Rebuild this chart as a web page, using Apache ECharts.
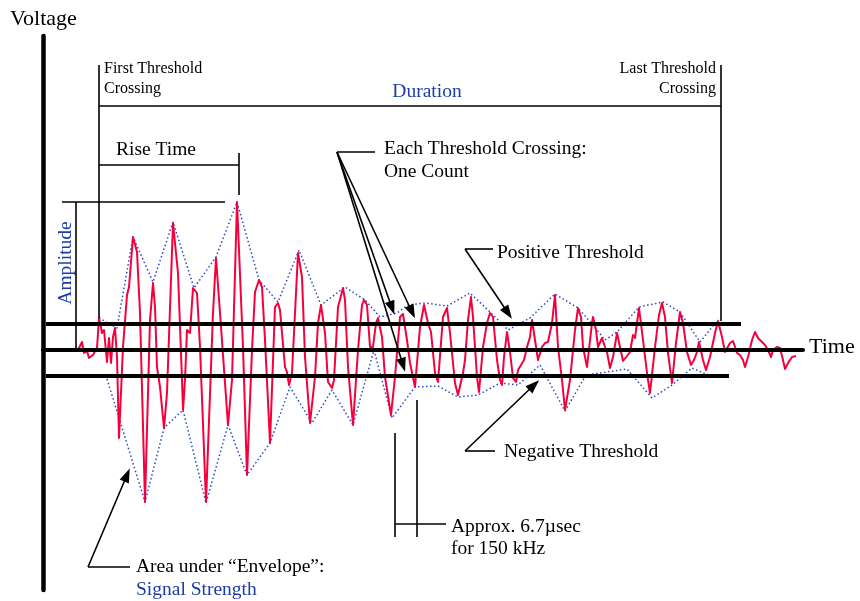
<!DOCTYPE html>
<html>
<head>
<meta charset="utf-8">
<script src="https://cdn.jsdelivr.net/npm/echarts@6/dist/echarts.min.js"></script>
<style>
html,body{margin:0;padding:0;background:#fff;}
#chart{width:860px;height:601px;}
</style>
</head>
<body>
<div id="chart"></div>
<script>
// ---- Data (time in chart units, voltage in chart units) ----
const waveTime = [11,17,23,29,35,39,41,44,46,50,52,54,56,58,59,61,64,66,68,70,72,74,76,80,84,86,90,94,97,102,107,110,112,114,117,121,124,130,135,139,140,142,144,147,150,154,157,163,170,173,177,185,189,194,200,204,209,212,216,219,222,227,232,235,237,239,242,244,246,249,255,259,262,267,272,275,278,280,282,285,289,291,295,300,302,305,310,315,319,321,324,327,330,333,335,339,342,348,352,357,360,364,367,372,377,381,385,388,392,395,400,404,407,412,415,420,422,425,428,430,434,436,440,444,447,450,454,457,459,461,464,467,470,473,475,478,481,484,487,489,492,495,499,502,505,509,512,515,519,522,527,532,535,538,540,544,546,549,550,553,555,559,562,564,567,570,574,577,580,584,587,590,592,596,600,604,607,612,616,619,622,625,629,633,637,640,644,648,651,654,656,660,663,667,672,675,679,682,684,687,690,692,694,697,700,702,705,709,712,715,719,722,725,728,730,734,737,740,742,745,749,753];
const waveVolt = [1,-1,0,-1,0,8,-3,-1,-8,-5,-3,2,32,23,17,20,-12,12,-13,13,22,-7,-88,3,55,63,113,98,37,-152,30,67,43,-17,-37,-78,-43,127,77,-30,-60,-30,20,17,62,57,3,-152,37,92,37,-75,-30,148,3,-125,0,58,70,63,10,-93,43,47,40,17,-17,-22,-35,-23,97,73,-7,-73,-27,27,45,43,17,-32,-38,-30,43,62,50,-17,-75,0,45,50,45,3,3,27,32,13,-27,-65,-27,33,36,10,-13,-37,23,45,27,18,-23,-32,33,42,17,-33,-45,-23,-10,30,53,33,-27,-42,3,27,37,33,-10,-30,-35,-7,18,-2,-28,-32,-20,-15,-10,3,13,30,10,-10,3,7,8,27,55,3,-30,-60,-30,20,42,33,3,-17,-18,27,33,20,3,12,3,-2,-18,-7,17,3,-11,-6,-2,15,12,42,10,-23,-43,3,35,47,33,-3,-33,7,38,27,-2,-15,-10,-2,8,-10,-20,-7,17,29,13,-2,-3,7,9,3,-3,-5,-10,-17,-7,10,18,12,8,5,0,-7,0,3,2,-10,-19,-13,-7,-6];

const upperTime = [56,74,90,110,130,151,173,194,216,235,256,278,302,322,337,354,365,382,404,427,447,465,487,512,535,550,562,574,596,620,637,657,675];
const upperVolt = [32,22,113,68,128,62,93,148,70,48,100,45,63,50,33,37,45,47,44,57,38,20,32,56,42,25,10,18,43,48,38,8,30];

const lowerTime = [64,102,121,140,163,185,204,227,247,269,289,310,331,349,372,395,415,435,457,475,497,522,543,584,609,629,649,665];
const lowerVolt = [-29,-152,-78,-60,-153,-75,-125,-93,-37,-73,-40,-75,0,-68,-37,-36,-47,-45,-33,-35,-15,-61,-25,-19,-48,-35,-18,-25];

const thresholdLevel = 26;
const posThresholdSpan = [3, 698];
const negThresholdSpan = [3, 686];

// ---- Build ----
const zip = (a, b) => a.map((x, i) => [x, b[i]]);
const SERIF = '"Liberation Serif", "DejaVu Serif", serif';
const BLUE = '#1c3ca6';

function seg(a, b) { return [{coord: a, symbol: 'none'}, {coord: b, symbol: 'none'}]; }
function arrow(a, b) { return [{coord: a, symbol: 'none'}, {coord: b, symbol: 'triangle', symbolSize: [10, 14]}]; }

const chart = echarts.init(document.getElementById('chart'), null, {renderer: 'canvas'});
const option = {
  animation: false,
  backgroundColor: '#fff',
  grid: {left: 43, top: 36, width: 760, height: 554, containLabel: false},
  xAxis: {
    type: 'value', min: 0, max: 760, z: 5,
    axisLine: {show: true, onZero: true, lineStyle: {color: '#000', width: 4}},
    axisTick: {show: false}, axisLabel: {show: false}, splitLine: {show: false}
  },
  yAxis: {
    type: 'value', min: -240, max: 314, z: 5,
    axisLine: {show: true, lineStyle: {color: '#000', width: 4.5}},
    axisTick: {show: false}, axisLabel: {show: false}, splitLine: {show: false}
  },
  series: [
    {
      name: 'envUpper', type: 'line', data: zip(upperTime, upperVolt), showSymbol: false, silent: true, z: 2,
      lineStyle: {color: '#2848c0', width: 1.5, type: [1.5, 2.5]}
    },
    {
      name: 'envLower', type: 'line', data: zip(lowerTime, lowerVolt), showSymbol: false, silent: true, z: 2,
      lineStyle: {color: '#2848c0', width: 1.5, type: [1.5, 2.5]}
    },
    {
      name: 'signal', type: 'line', data: zip(waveTime, waveVolt), showSymbol: false, silent: true, z: 3,
      lineStyle: {color: '#f5003c', width: 2, join: 'round'}
    },
    {
      name: 'posThr', type: 'line', data: posThresholdSpan.map(t => [t, thresholdLevel]), showSymbol: false, silent: true, z: 4,
      lineStyle: {color: '#000', width: 4}
    },
    {
      name: 'negThr', type: 'line', data: negThresholdSpan.map(t => [t, -thresholdLevel]), showSymbol: false, silent: true, z: 4,
      lineStyle: {color: '#000', width: 4}
    },
    {
      name: 'annot', type: 'line', data: [], silent: true, z: 6,
      markLine: {
        silent: true, animation: false, symbol: ['none', 'none'],
        label: {show: false}, emphasis: {disabled: true},
        lineStyle: {color: '#000', width: 1.6, type: 'solid'},
        data: [
          seg([56, 285], [56, 32]),
          seg([678, 285], [678, 29]),
          seg([56, 244], [678, 244]),
          seg([56, 185], [196, 185]),
          seg([196, 197], [196, 155]),
          seg([19, 148], [182, 148]),
          seg([33, 148], [33, 2]),
          seg([294, 198], [332, 198]),
          seg([422, 101], [450, 101]),
          seg([422, -101], [452, -101]),
          seg([45, -217], [87, -217]),
          seg([352, -83], [352, -187]),
          seg([374, -50], [374, -187]),
          seg([352, -174], [403, -174]),
          arrow([294, 198], [349, 42]),
          arrow([294, 198], [369, 38]),
          arrow([294, 198], [360, -15]),
          arrow([422, 101], [465, 37]),
          arrow([422, -101], [491, -35]),
          arrow([45, -217], [84, -125])
        ]
      }
    }
  ],
  graphic: [
    {type: 'text', x: 10, y: 19, style: {text: 'Voltage', font: '22px ' + SERIF, fill: '#000', align: 'left', verticalAlign: 'middle'}},
    {type: 'text', x: 809, y: 347, style: {text: 'Time', font: '22px ' + SERIF, fill: '#000', align: 'left', verticalAlign: 'middle'}},
    {type: 'text', x: 104, y: 69, style: {text: 'First Threshold', font: '16px ' + SERIF, fill: '#000', align: 'left', verticalAlign: 'middle'}},
    {type: 'text', x: 104, y: 89, style: {text: 'Crossing', font: '16px ' + SERIF, fill: '#000', align: 'left', verticalAlign: 'middle'}},
    {type: 'text', x: 716, y: 69, style: {text: 'Last Threshold', font: '16px ' + SERIF, fill: '#000', align: 'right', verticalAlign: 'middle'}},
    {type: 'text', x: 716, y: 89, style: {text: 'Crossing', font: '16px ' + SERIF, fill: '#000', align: 'right', verticalAlign: 'middle'}},
    {type: 'text', x: 427, y: 92, style: {text: 'Duration', font: '19.5px ' + SERIF, fill: BLUE, align: 'center', verticalAlign: 'middle'}},
    {type: 'text', x: 116, y: 150, style: {text: 'Rise Time', font: '19.5px ' + SERIF, fill: '#000', align: 'left', verticalAlign: 'middle'}},
    {type: 'text', x: 66, y: 263, rotation: Math.PI / 2, style: {text: 'Amplitude', font: '19.5px ' + SERIF, fill: BLUE, align: 'center', verticalAlign: 'middle'}},
    {type: 'text', x: 384, y: 149, style: {text: 'Each Threshold Crossing:', font: '19.5px ' + SERIF, fill: '#000', align: 'left', verticalAlign: 'middle'}},
    {type: 'text', x: 384, y: 172, style: {text: 'One Count', font: '19.5px ' + SERIF, fill: '#000', align: 'left', verticalAlign: 'middle'}},
    {type: 'text', x: 497, y: 253, style: {text: 'Positive Threshold', font: '19.5px ' + SERIF, fill: '#000', align: 'left', verticalAlign: 'middle'}},
    {type: 'text', x: 504, y: 452, style: {text: 'Negative Threshold', font: '19.5px ' + SERIF, fill: '#000', align: 'left', verticalAlign: 'middle'}},
    {type: 'text', x: 451, y: 527, style: {text: 'Approx. 6.7\u00b5sec', font: '19.5px ' + SERIF, fill: '#000', align: 'left', verticalAlign: 'middle'}},
    {type: 'text', x: 451, y: 549, style: {text: 'for 150 kHz', font: '19.5px ' + SERIF, fill: '#000', align: 'left', verticalAlign: 'middle'}},
    {type: 'text', x: 136, y: 567, style: {text: 'Area under \u201cEnvelope\u201d:', font: '19.5px ' + SERIF, fill: '#000', align: 'left', verticalAlign: 'middle'}},
    {type: 'text', x: 136, y: 590, style: {text: 'Signal Strength', font: '19.5px ' + SERIF, fill: BLUE, align: 'left', verticalAlign: 'middle'}}
  ]
};
chart.setOption(option);
</script>
</body>
</html>
